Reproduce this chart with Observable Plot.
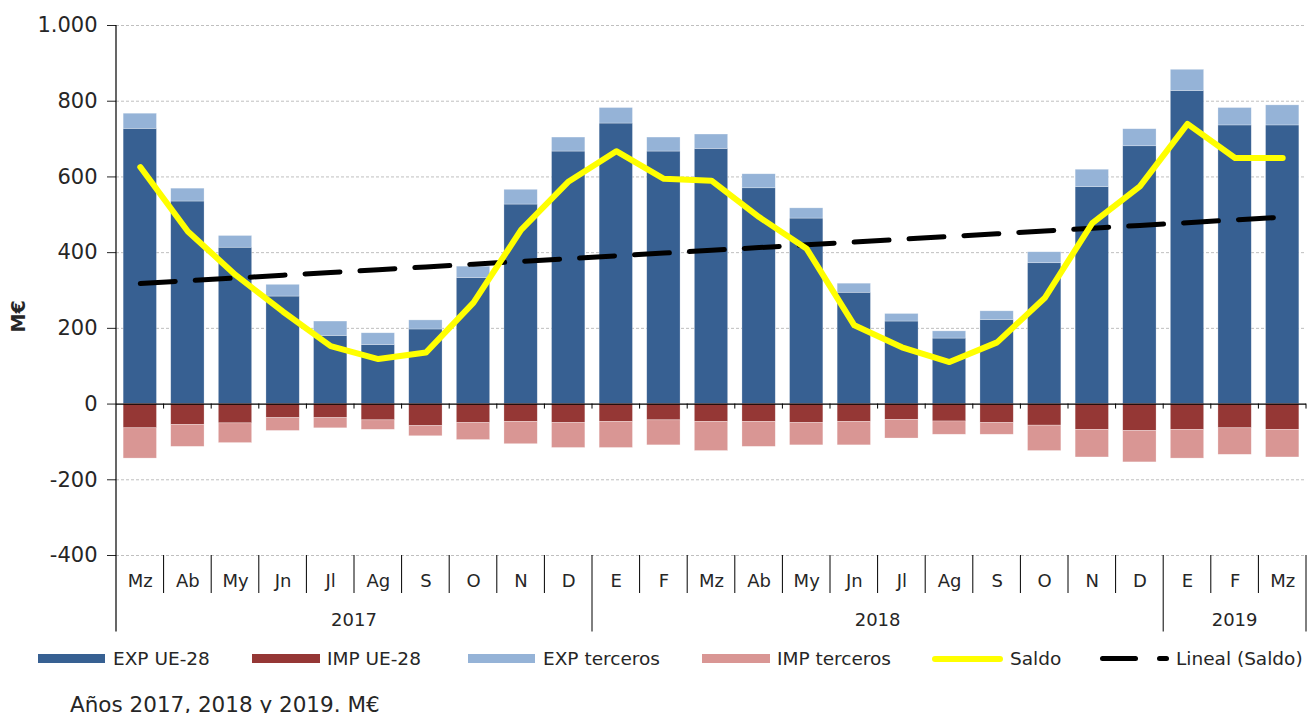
<!DOCTYPE html>
<html><head><meta charset="utf-8">
<script src="https://cdn.jsdelivr.net/npm/d3@7"></script>
<script src="https://cdn.jsdelivr.net/npm/@observablehq/plot@0.6"></script>
<style>
body{margin:0;background:#fff;}
#wrap{position:relative;width:1309px;height:713px;overflow:hidden;font-family:"DejaVu Sans",sans-serif;color:#262626;}
#wrap svg{position:absolute;left:0;top:0;}
.sw{position:absolute;}
.lt{position:absolute;font-size:18.5px;line-height:18.5px;white-space:nowrap;}
.cap{position:absolute;left:70px;top:694px;font-size:21.5px;line-height:21.5px;white-space:nowrap;}
</style></head><body><div id="wrap"></div>
<script>
// ---- data (M€) ----
const months = ["Mz","Ab","My","Jn","Jl","Ag","S","O","N","D","E","F","Mz","Ab","My","Jn","Jl","Ag","S","O","N","D","E","F","Mz"];
const years = [2017,2017,2017,2017,2017,2017,2017,2017,2017,2017,
               2018,2018,2018,2018,2018,2018,2018,2018,2018,2018,2018,2018,
               2019,2019,2019];
const expUE = [727,535,413,284,180,156,197,333,527,667,741,667,674,570,490,294,218,173,222,372,573,681,827,736,736];
const expTerceros = [40,34,31,31,38,31,24,30,39,37,41,37,38,37,27,24,20,19,23,29,46,45,56,46,53];
const impUE = [-64,-55,-51,-37,-37,-43,-58,-50,-47,-50,-47,-43,-47,-47,-50,-47,-42,-46,-50,-57,-68,-71,-68,-64,-68];
const impTerceros = [-80,-58,-52,-34,-27,-25,-27,-45,-59,-66,-69,-66,-77,-66,-59,-62,-49,-35,-31,-67,-73,-83,-76,-70,-73];
const saldo = [626,456,341,244,153,119,136,268,460,588,668,595,590,494,410,208,150,111,163,280,478,575,740,650,650];
const yTicks = [-400,-200,0,200,400,600,800,1000];
const seriesNames = ["EXP UE-28","IMP UE-28","EXP terceros","IMP terceros"];
const seriesColors = ["#376092","#953735","#95B3D7","#D99694"];
const saldoName = "Saldo";
const trendName = "Lineal (Saldo)";
const caption = "Años 2017, 2018 y 2019. M€";
const yLabel = "M€";

// ---- tables ----
const n = months.length;
const keys = months.map((m, i) => years[i] + "-" + m + "-" + i);
const rows = [];
keys.forEach((k, i) => {
  rows.push({key: k, series: "EXP UE-28", value: expUE[i]});
  rows.push({key: k, series: "EXP terceros", value: expTerceros[i]});
  rows.push({key: k, series: "IMP UE-28", value: impUE[i]});
  rows.push({key: k, series: "IMP terceros", value: impTerceros[i]});
});
const idx = d3.range(n);
const mx = d3.mean(idx), my = d3.mean(saldo);
const slope = d3.sum(idx, i => (i - mx) * (saldo[i] - my)) / d3.sum(idx, i => (i - mx) ** 2);
const lineRows = idx.map(i => ({key: keys[i], month: months[i], saldo: saldo[i], trend: my + slope * (i - mx)}));

const fmt = d => String(d).replace(/\B(?=(\d{3})+(?!\d))/g, ".");

function categoryAxis(index, scales, values, dims) {
  const x = scales.x, y = scales.y;
  const bw = x.bandwidth(), step = x.step();
  const pad = (step - bw) / 2;
  const b = keys.map(k => x(k) - pad);
  b.push(x(keys[n - 1]) + bw + pad);
  const g = d3.create("svg:g").attr("stroke", "#000").attr("fill", "none");
  const yb = y(-400), y0 = y(0);
  const left = dims.marginLeft;
  g.append("line").attr("x1", left).attr("x2", left).attr("y1", dims.marginTop).attr("y2", yb + 76.5).attr("stroke-width", 1.2);
  for (let i = 1; i <= n; i++) {
    g.append("line").attr("x1", b[i]).attr("x2", b[i]).attr("y1", y0).attr("y2", y0 + 5);
    const yearEdge = i === n || years[i] !== years[i - 1];
    g.append("line").attr("x1", b[i]).attr("x2", b[i]).attr("y1", yb).attr("y2", yb + (yearEdge ? 76.5 : 38));
  }
  const yrs = Array.from(new Set(years));
  yrs.forEach(yr => {
    const a = years.indexOf(yr), z = years.lastIndexOf(yr);
    g.append("text").attr("x", (b[a] + b[z + 1]) / 2).attr("y", yb + 64.5).attr("dy", "0.35em")
      .attr("text-anchor", "middle").attr("stroke", "none").attr("fill", "#262626")
      .attr("font-size", 18).text(yr);
  });
  return g.node();
}

const chart = Plot.plot({
  width: 1309,
  height: 640,
  marginLeft: 116,
  marginRight: 3,
  marginTop: 25,
  marginBottom: 85,
  style: {fontFamily: "DejaVu Sans, sans-serif", fontSize: "21px", color: "#262626", background: "#fff"},
  x: {type: "band", domain: keys, paddingInner: 0.3, paddingOuter: 0.15, round: false, axis: null},
  y: {domain: [-400, 1000], nice: false, ticks: yTicks, tickFormat: fmt, tickSize: 9, tickPadding: 10, label: null},
  color: {domain: seriesNames, range: seriesColors},
  marks: [
    Plot.ruleY(yTicks.filter(d => d !== 0), {stroke: "#bfbfbf", strokeDasharray: "3,2", strokeWidth: 1}),
    Plot.barY(rows, {x: "key", y: "value", fill: "series", stroke: "#fff", strokeWidth: 0.6, strokeOpacity: 0.45}),
    Plot.ruleY([0], {stroke: "#000", strokeWidth: 1.2}),
    Plot.line(lineRows, {x: "key", y: "trend", stroke: "#000", strokeWidth: 5, strokeDasharray: "35,20", strokeLinecap: "round"}),
    Plot.line(lineRows, {x: "key", y: "saldo", stroke: "#ffff00", strokeWidth: 6, strokeLinejoin: "round", strokeLinecap: "round"}),
    Plot.text(lineRows, {x: "key", text: "month", frameAnchor: "bottom", dy: 26, lineAnchor: "middle", fontSize: 18, fill: "#262626"}),
    Plot.text([yLabel], {text: d => d, frameAnchor: "left", dx: -98, dy: 42, rotate: -90, fontWeight: "bold", fontSize: 19, fill: "#262626"}),
    categoryAxis
  ]
});

const wrap = document.getElementById("wrap");
wrap.appendChild(chart);

// ---- legend ----
const legendItems = [
  {label: seriesNames[0], color: seriesColors[0], sx: 37.7, sw: 67, tx: 113},
  {label: seriesNames[1], color: seriesColors[1], sx: 252, sw: 68, tx: 327},
  {label: seriesNames[2], color: seriesColors[2], sx: 468, sw: 67, tx: 543},
  {label: seriesNames[3], color: seriesColors[3], sx: 702, sw: 68, tx: 777}
];
legendItems.forEach(it => {
  const s = document.createElement("div");
  s.className = "sw";
  Object.assign(s.style, {left: it.sx + "px", top: "654px", width: it.sw + "px", height: "9px", background: it.color});
  wrap.appendChild(s);
  const t = document.createElement("div");
  t.className = "lt"; t.textContent = it.label;
  Object.assign(t.style, {left: it.tx + "px", top: "649.6px"});
  wrap.appendChild(t);
});
function pill(x, w, h, color) {
  const s = document.createElement("div");
  s.className = "sw";
  Object.assign(s.style, {left: x + "px", top: (658.5 - h / 2) + "px", width: w + "px", height: h + "px", background: color, borderRadius: (h / 2) + "px"});
  wrap.appendChild(s);
}
pill(932, 71, 6, "#ffff00");
const t5 = document.createElement("div"); t5.className = "lt"; t5.textContent = saldoName;
Object.assign(t5.style, {left: "1010px", top: "649.6px"}); wrap.appendChild(t5);
pill(1100, 38, 5, "#000");
pill(1157, 12, 5, "#000");
const t6 = document.createElement("div"); t6.className = "lt"; t6.textContent = trendName;
Object.assign(t6.style, {left: "1176px", top: "649.6px"}); wrap.appendChild(t6);

const cap = document.createElement("div"); cap.className = "cap"; cap.textContent = caption;
wrap.appendChild(cap);
</script>
</body></html>
